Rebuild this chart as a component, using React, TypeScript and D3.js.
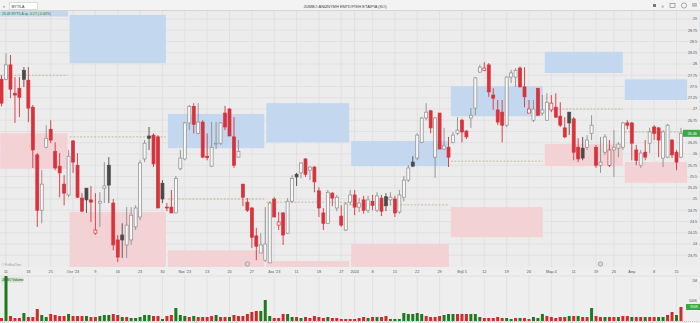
import React, { useEffect } from "react";
import * as d3 from "d3";

// ---------- DATA ----------
// candle index 0 = Sep 11 2023 (trading-day index); first candle is index -1
const firstIndex = -1;
const opens = [27.66,27.66,27.98,27.35,27.46,27.86,27.64,27.04,25.98,24.75,26.15,26.55,26.06,25.73,25.33,25.09,26.29,25.75,25.02,25.24,24.98,24.24,24.91,25.24,25.75,24.91,24.09,24.20,23.98,24.09,24.38,24.60,25.89,26.40,26.42,26.38,25.35,24.82,24.82,24.69,25.67,25.89,26.69,27.06,26.46,26.71,25.95,25.73,26.22,26.24,26.91,27.00,26.38,25.93,25.33,24.93,24.80,24.18,23.80,23.64,23.58,25.00,24.42,24.69,24.24,24.95,25.55,25.58,25.89,25.64,25.71,25.18,24.69,24.46,25.13,24.80,24.62,24.31,24.93,25.09,24.82,24.98,24.75,24.95,24.75,25.02,25.05,24.98,25.00,24.71,25.04,25.42,25.82,25.91,26.26,26.80,26.96,25.93,26.91,26.11,26.15,26.26,26.46,26.75,26.51,26.80,27.02,27.82,27.86,27.98,27.31,26.98,26.93,26.64,27.71,27.71,27.91,27.49,26.91,26.75,27.46,26.91,26.75,26.98,27.04,26.84,26.58,26.93,26.78,26.15,26.13,26.15,26.46,26.15,25.75,26.04,25.75,26.09,26.13,26.15,26.69,26.69,26.09,25.75,26.04,26.24,26.60,26.58,25.91,25.93,26.31,26.04,25.93];
const highs = [27.75,28.24,28.20,27.71,27.71,27.93,27.93,27.09,26.02,25.64,26.64,26.75,26.26,26.02,25.53,26.09,26.31,26.02,25.13,25.24,25.29,25.13,25.15,25.82,25.93,25.00,24.20,24.46,24.82,24.82,24.86,25.86,26.31,26.60,26.46,26.42,25.42,24.91,25.20,25.51,26.09,26.71,27.09,27.13,27.13,26.75,26.46,26.71,26.71,26.71,27.07,27.02,26.82,26.31,25.33,25.02,24.82,24.36,24.24,24.82,24.95,25.04,24.71,24.71,25.02,25.53,25.58,25.82,25.91,25.73,25.73,25.26,24.80,25.20,25.15,25.09,24.86,24.93,25.20,25.20,25.02,25.07,25.07,25.09,25.15,25.09,25.13,25.15,25.07,25.20,25.51,25.75,25.95,26.46,26.82,27.13,26.98,26.82,26.91,26.58,26.38,26.49,26.82,26.78,26.53,27.02,27.71,27.98,28.04,28.02,27.46,27.20,27.20,27.73,27.87,27.91,27.95,27.93,27.20,27.20,27.46,27.31,27.35,27.31,27.35,27.15,26.82,26.93,26.82,26.35,26.38,26.42,26.86,26.20,26.38,26.44,26.31,26.53,26.26,26.71,26.75,26.71,26.20,26.09,26.31,26.58,26.64,26.60,26.53,26.67,26.33,26.09,26.58];
const lows = [27.06,27.64,27.24,26.69,26.82,27.49,26.71,25.69,24.38,24.46,26.13,26.24,25.64,25.04,24.86,25.04,25.58,25.02,24.71,24.69,24.49,24.20,24.38,24.91,24.91,23.86,23.60,23.69,23.69,23.98,24.31,24.53,25.82,26.09,25.71,24.80,24.91,24.73,24.69,24.69,25.64,25.86,26.53,26.46,26.44,25.91,25.86,25.71,26.11,26.20,26.53,26.40,25.69,25.93,24.84,24.71,23.91,23.64,23.80,23.60,23.58,24.60,24.31,23.98,24.22,24.91,25.29,25.46,25.49,25.42,25.15,24.60,24.31,24.46,24.84,24.73,24.38,24.29,24.86,24.64,24.71,24.67,24.69,24.75,24.71,24.62,24.73,24.86,24.60,24.67,24.95,25.38,25.71,25.86,26.24,26.75,26.46,25.47,26.11,26.09,25.71,26.24,26.42,26.26,26.33,26.58,26.86,27.80,27.84,27.27,26.98,26.64,26.26,26.60,27.58,27.49,27.49,27.04,26.91,26.71,26.86,26.86,26.75,26.93,26.80,26.60,26.35,26.42,25.86,25.82,25.86,26.09,26.31,25.69,25.58,25.98,25.71,25.49,25.93,26.09,26.55,25.86,25.75,25.69,25.86,26.02,26.31,25.93,25.71,25.91,25.91,25.64,25.91];
const closes = [27.13,27.98,27.44,27.31,27.26,27.66,27.02,26.09,24.75,25.33,26.35,26.31,25.69,25.58,25.13,25.95,25.82,25.04,24.73,24.98,24.93,24.31,24.95,25.29,25.31,23.98,23.71,24.09,24.42,24.64,24.80,25.80,26.24,26.35,25.78,24.80,25.00,24.80,24.69,25.46,25.91,26.69,27.06,26.66,26.71,25.93,25.92,26.15,26.24,26.69,26.60,26.40,25.75,26.06,25.04,24.75,24.15,23.95,23.98,24.00,24.91,24.60,24.49,24.20,24.95,25.46,25.49,25.80,25.55,25.71,25.38,24.80,24.46,25.15,25.02,25.04,24.42,24.89,25.09,24.82,24.91,24.75,24.98,24.86,25.07,24.73,24.85,25.04,24.69,25.09,25.42,25.69,25.73,26.42,26.80,26.93,26.58,26.80,26.11,26.18,25.93,26.42,26.53,26.49,26.38,26.86,27.69,27.93,27.91,27.38,27.24,26.71,26.64,27.71,27.80,27.86,27.49,27.27,27.00,27.00,26.86,26.98,27.15,27.13,26.82,26.64,26.38,26.69,26.04,25.89,25.91,26.31,26.64,25.75,25.82,26.38,26.09,26.15,26.22,26.69,26.64,26.24,25.86,26.02,25.93,26.49,26.46,26.31,26.49,26.64,25.98,25.82,26.46];
// volume in thousands of shares, and its colour (G = up day, R = down day)
const volumes = [75,1175,125,75,75,200,100,100,300,150,100,175,150,125,125,175,125,125,125,125,100,100,125,150,150,175,150,100,100,75,75,100,150,150,125,125,50,125,150,325,150,125,100,125,100,100,100,125,150,100,100,100,150,125,125,175,225,250,250,525,125,75,75,175,175,100,100,75,100,75,125,100,75,100,75,75,50,50,50,50,75,100,75,100,100,100,125,50,50,50,200,175,175,200,175,125,100,100,125,150,175,175,175,175,175,175,175,100,75,75,75,100,75,75,50,75,75,75,50,100,75,175,125,100,75,100,100,125,125,125,100,100,325,125,100,100,100,100,100,125,125,100,100,100,100,100,100,100,100,150,225,150,350];
const volumeDir = "RGRRRGRRRGGRRRRGRRRGRRGGGRRGRGGGGGRRGRRGGGRGRRRRGRRGRRRRRRGGGRRRGGRGRRRRRGRRRRRRRRGRGRRGGGGGGGGRRRRGGGRRRGGGRRRRRGGRGRRGGGRRRRRGRGRRGRRGRRGRRGRRGRRGGRRG";
const xTickIndex = [0,5,10,15,20,25,30,35,40,45,50,55,60,65,70,75,78,82,87,92,97,102,107,112,117,122,127,132,136,140,145,150];
const xTickLabels = ["11","18","25","Οκτ '23","9","16","23","30","Νοε '23","13","20","27","Δεκ '23","11","18","27","2024","8","15","22","29","Φεβ 5","12","19","26","Μαρ 4","11","19","26","Απρ","8","15"];
const priceTicks = [29,28.75,28.5,28.25,28,27.75,27.5,27.25,27,26.75,26.5,26.25,26,25.75,25.5,25.25,25,24.75,24.5,24.25,24,23.75];
// zone periods (edges in candle-index space) and price bands
const zoneEdges = [-1.5,14,36,58,77,99.3,120.3,138.2,152.6];
const supplyTop = [29.4,29.09,26.89,27.13,26.29,27.51,28.27,27.66];
const supplyBottom = [29.07,28.02,26.13,26.26,25.73,26.84,27.8,27.2];
const demandTop = [26.46,24.71,23.86,23.62,24.0,24.82,26.22,25.82];
const demandBottom = [25.67,23.3,23.3,23.3,23.3,24.15,25.73,25.36];
const midLevels = [27.75,26.38,25.0,24.93,24.87,25.84,27.0,26.49];
const eventIndex = [54,133];

// ---------- LAYOUT ----------
const W = 700, H = 323;
const plotTop = 11, plotBottom = 267, plotRight = 700;
const volTop = 276, volBottom = 321;

export default function App() {
  useEffect(() => {
    document.body.style.margin = "0";
  }, []);

  const n = opens.length;
  const idx = d3.range(n).map((k) => k + firstIndex);
  const x = d3.scaleLinear().domain([0, 150]).range([6, 6 + 150 * 4.47]);
  const y = d3.scaleLinear().domain([23.5, 29]).range([19 + 5.5 * 45, 19]);
  const yv = d3.scaleLinear().domain([0, 1000]).range([volBottom, volBottom - 40]);
  const bw = 3;

  const red = "#d8323c";
  const grey = "#8c8c8c";
  const dark = "#4a4a4a";
  const green = "#1f7a1f";
  const vred = "#d02a2a";

  const font = "'Liberation Sans', Arial, sans-serif";
  const last = closes[n - 1];
  const lastY = y(last);

  return (
    <svg width={W} height={H} style={{ position: "absolute", left: 0, top: 0, background: "#eeeeee", fontFamily: font }}>
      <defs>
        <clipPath id="plot"><rect x={0} y={plotTop} width={plotRight} height={plotBottom - plotTop} /></clipPath>
        <clipPath id="vol"><rect x={0} y={volTop} width={W} height={volBottom - volTop + 2} /></clipPath>
      </defs>
      {/* header */}
      <rect x={0} y={0} width={W} height={plotTop - 0.5} fill="#f3f3f3" />
      <line x1={0} x2={W} y1={plotTop - 0.5} y2={plotTop - 0.5} stroke="#d4d4d4" />
      <text x={3} y={8} fontSize={6} fill="#555">‹</text>
      <rect x={9.5} y={2.5} width={28} height={7} fill="#fff" stroke="#c8c8c8" strokeWidth={0.6} />
      <text x={11.5} y={7.6} fontSize={3.6} fill="#333">MYTILA</text>
      <text x={345} y={7.5} fontSize={4} fill="#444" textAnchor="middle">JUMBO ΑΝΩΝΥΜΗ ΕΜΠΟΡΙΚΗ ΕΤΑΙΡΙΑ (ΚΟ)</text>
      <g fill="#777">
        <rect x={653} y={4} width={3} height={3} />
        <text x={661} y={7.5} fontSize={4}>✕</text>
        <rect x={670} y={3.5} width={5} height={4} fill="none" stroke="#777" strokeWidth={0.6} />
        <circle cx={684} cy={5.5} r={2.6} fill="none" stroke="#777" strokeWidth={0.6} />
        <rect x={692} y={3.5} width={5} height={0.8} />
        <rect x={692} y={5.5} width={5} height={0.8} />
      </g>

      {/* price pane */}
      <g clipPath="url(#plot)">
        <rect x={0} y={plotTop} width={plotRight} height={plotBottom - plotTop} fill="#ececec" />
        {priceTicks.map((p) => (
          <line key={"h" + p} x1={0} x2={plotRight} y1={y(p)} y2={y(p)} stroke="#dcdcdc" strokeWidth={0.7} />
        ))}
        {xTickIndex.map((t, k) => (
          <line key={"v" + k} x1={x(t)} x2={x(t)} y1={plotTop} y2={plotBottom} stroke="#dcdcdc" strokeWidth={0.7} />
        ))}
        {supplyTop.map((t, k) => (
          <rect key={"s" + k} x={x(zoneEdges[k]) + 1} width={x(zoneEdges[k + 1]) - x(zoneEdges[k]) - 2}
            y={y(t)} height={y(supplyBottom[k]) - y(t)} fill="#c3d8ef" />
        ))}
        {demandTop.map((t, k) => (
          <rect key={"d" + k} x={x(zoneEdges[k]) + 1} width={x(zoneEdges[k + 1]) - x(zoneEdges[k]) - 2}
            y={y(t)} height={y(demandBottom[k]) - y(t)} fill="#f3d2d5" />
        ))}
        {midLevels.map((m, k) => (
          <line key={"m" + k} x1={x(zoneEdges[k]) + 1} x2={x(zoneEdges[k + 1]) - 1} y1={y(m)} y2={y(m)}
            stroke="#b0a878" strokeWidth={0.7} strokeDasharray="2,1.5" />
        ))}
        {idx.map((i, k) => {
          const o = opens[k], c = closes[k], h = highs[k], l = lows[k];
          const prev = k > 0 ? closes[k - 1] : o;
          const up = c >= prev;
          const filled = c < o;
          const col = up ? (filled ? dark : grey) : red;
          const cx = x(i);
          const top = y(Math.max(o, c)), bot = y(Math.min(o, c));
          return (
            <g key={"c" + k}>
              <line x1={cx} x2={cx} y1={y(h)} y2={y(l)} stroke={col} strokeWidth={0.9} />
              <rect x={cx - bw / 2} y={top} width={bw} height={Math.max(0.8, bot - top)}
                fill={filled ? col : "#f7f7f7"} stroke={col} strokeWidth={0.7} />
            </g>
          );
        })}
        {eventIndex.map((e) => (
          <g key={"e" + e}>
            <circle cx={x(e)} cy={plotBottom - 3} r={2.2} fill="#d8d8d8" stroke="#888" strokeWidth={0.6} />
          </g>
        ))}
      </g>
      {/* header info strip */}
      <rect x={0} y={plotTop + 0.5} width={68} height={5} fill="#c3d8ef" />
      <text x={2} y={plotTop + 4.3} fontSize={3.4} fill="#2e7d32">26.46 MYTILA op -0.17 (-0.64%)</text>

      {/* price axis labels (the one hidden by the last-price tag is skipped) */}
      {priceTicks.filter((p) => Math.abs(y(p) - lastY) > 6).map((p) => (
        <text key={"pl" + p} x={697} y={y(p) + 1.3} fontSize={3.6} fill="#555" textAnchor="end">
          {d3.format("")(p)}
        </text>
      ))}
      <rect x={683} y={lastY - 3.5} width={17} height={7} fill="#3aa845" />
      <text x={697} y={lastY + 1.3} fontSize={3.8} fill="#fff" textAnchor="end">{last.toFixed(2)}</text>

      {/* time axis */}
      <text x={2} y={plotBottom - 1} fontSize={2.8} fill="#999">© ProRealTime</text>
      {xTickIndex.map((t, k) => (
        <text key={"xl" + k} x={x(t)} y={273} fontSize={3.8} fill="#555" textAnchor="middle">{xTickLabels[k]}</text>
      ))}

      {/* volume pane */}
      <line x1={0} x2={W} y1={volTop} y2={volTop} stroke="#d8d8d8" strokeWidth={0.6} />
      {xTickIndex.map((t, k) => (
        <line key={"vv" + k} x1={x(t)} x2={x(t)} y1={volTop} y2={volBottom} stroke="#dcdcdc" strokeWidth={0.7} />
      ))}
      <rect x={1} y={volTop + 1.5} width={22} height={5} fill="#cfe6cf" />
      <text x={2} y={volTop + 5.3} fontSize={3.4} fill="#333">JMBO Volume</text>
      <g clipPath="url(#vol)">
        {idx.map((i, k) => (
          <rect key={"vb" + k} x={x(i) - bw / 2} width={bw} y={yv(volumes[k])} height={volBottom - yv(volumes[k])}
            fill={volumeDir[k] === "G" ? green : vred} />
        ))}
      </g>
      <text x={697} y={yv(1000) + 1.3} fontSize={3.4} fill="#555" textAnchor="end">1M</text>
      <text x={697} y={yv(500) + 1.3} fontSize={3.4} fill="#555" textAnchor="end">500K</text>
      <rect x={686} y={yv(volumes[n - 1]) - 3} width={14} height={6} fill="#3aa845" />
      <text x={698} y={yv(volumes[n - 1]) + 1.2} fontSize={3.4} fill="#fff" textAnchor="end">{volumes[n - 1]}K</text>
      <line x1={0} x2={W} y1={volBottom + 0.5} y2={volBottom + 0.5} stroke="#c9a5a5" strokeWidth={0.6} strokeDasharray="1,1" />
    </svg>
  );
}
